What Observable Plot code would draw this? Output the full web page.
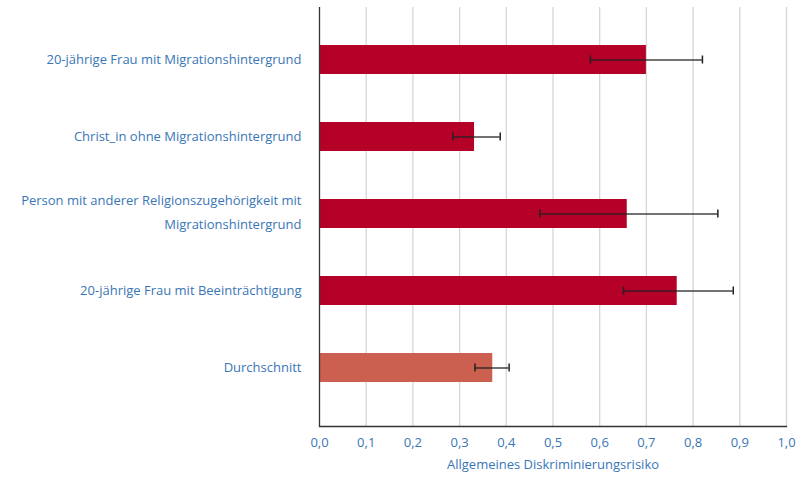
<!DOCTYPE html>
<html>
<head>
<meta charset="utf-8">
<script src="https://cdn.jsdelivr.net/npm/d3@7"></script>
<script src="https://cdn.jsdelivr.net/npm/@observablehq/plot@0.6"></script>
<style>
  html, body { margin: 0; padding: 0; background: #fff; }
  #chart svg { display: block; }
</style>
</head>
<body>
<div id="chart"></div>
<script>
const categories = [
  "20-jährige Frau mit Migrationshintergrund",
  "Christ_in ohne Migrationshintergrund",
  "Person mit anderer Religionszugehörigkeit mit Migrationshintergrund",
  "20-jährige Frau mit Beeinträchtigung",
  "Durchschnitt"
];
const labels = [
  "20-jährige Frau mit Migrationshintergrund",
  "Christ_in ohne Migrationshintergrund",
  "Person mit anderer Religionszugehörigkeit mit\nMigrationshintergrund",
  "20-jährige Frau mit Beeinträchtigung",
  "Durchschnitt"
];
const values = [0.700, 0.332, 0.659, 0.766, 0.371];
const lower  = [0.580, 0.286, 0.472, 0.651, 0.333];
const upper  = [0.820, 0.387, 0.853, 0.886, 0.406];
const isAverage = [false, false, false, false, true];
const xTicks = [0, 0.1, 0.2, 0.3, 0.4, 0.5, 0.6, 0.7, 0.8, 0.9, 1.0];
const xTitle = "Allgemeines Diskriminierungsrisiko";

const data = categories.map((c, i) => ({
  cat: c, label: labels[i], value: values[i], lo: lower[i], hi: upper[i], avg: isAverage[i]
}));
const caps = data.flatMap(d => [{cat: d.cat, x: d.lo}, {cat: d.cat, x: d.hi}]);
const single = data.filter(d => !d.label.includes("\n"));
const multi = data.filter(d => d.label.includes("\n"));

const blue = "#3a76b6";
const fmt = d => d.toFixed(1).replace(".", ",");

const chart = Plot.plot({
  width: 811,
  height: 478,
  marginLeft: 319,
  marginRight: 25,
  marginTop: 7,
  marginBottom: 52,
  style: {fontFamily: "'Open Sans', sans-serif", background: "#fff"},
  x: {domain: [0, 1], axis: null},
  y: {domain: categories, range: [45, 383], paddingInner: 0.62, paddingOuter: 0, axis: null},
  marks: [
    Plot.ruleX(xTicks.slice(1), {stroke: "#d6d6d6", strokeWidth: 1.3}),
    Plot.barX(data.filter(d => !d.avg), {x: "value", y: "cat", fill: "#b50028"}),
    Plot.barX(data.filter(d => d.avg), {x: "value", y: "cat", fill: "#cc6050"}),
    Plot.ruleY(data, {x1: "lo", x2: "hi", y: "cat", stroke: "#222", strokeWidth: 1.5, strokeOpacity: 0.85}),
    Plot.tickX(caps, {x: "x", y: "cat", stroke: "#222", strokeWidth: 1.5, insetTop: 10.5, insetBottom: 10.5}),
    Plot.ruleX([0], {stroke: "#333", strokeWidth: 1.3}),
    Plot.frame({anchor: "bottom", stroke: "#333", strokeWidth: 1.3}),
    Plot.text(single, {y: "cat", text: "label", frameAnchor: "left", dx: -18, textAnchor: "end",
      fill: blue, fontSize: 13}),
    Plot.text(multi, {y: "cat", text: "label", frameAnchor: "left", dx: -18, dy: -5, textAnchor: "end",
      lineHeight: 1.85, fill: blue, fontSize: 13}),
    Plot.text(xTicks, {x: d => d, text: fmt, frameAnchor: "bottom", dy: 20, fill: blue, fontSize: 13}),
    Plot.text([xTitle], {frameAnchor: "bottom", dy: 42, fill: blue, fontSize: 13})
  ]
});
document.getElementById("chart").appendChild(chart);
</script>
</body>
</html>
